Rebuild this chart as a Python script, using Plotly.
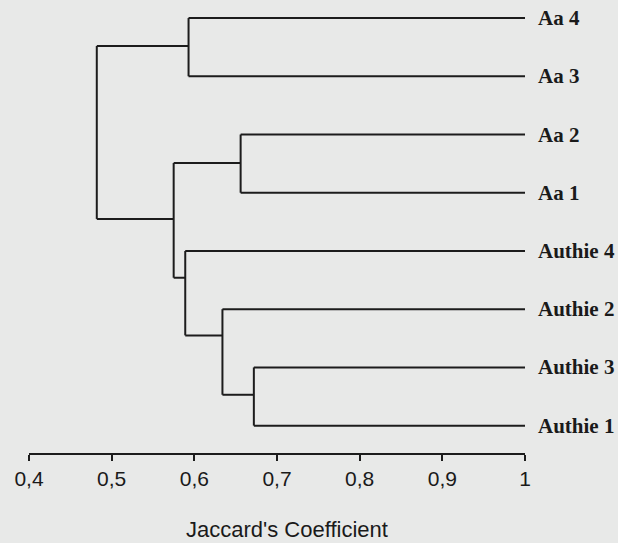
import plotly.graph_objects as go

# ---- data ----
leaf_labels = ["Aa 4", "Aa 3", "Aa 2", "Aa 1", "Authie 4", "Authie 2", "Authie 3", "Authie 1"]
leaf_similarity = 1.0  # leaves start at coefficient 1

# merges: children ids (leaves 0..7, internal nodes 8..), Jaccard similarity, node row position
merge_left = [0, 2, 6, 5, 4, 9, 8]
merge_right = [1, 3, 7, 10, 11, 12, 13]
merge_similarity = [0.593, 0.656, 0.672, 0.634, 0.589, 0.575, 0.482]
merge_row = [0.48, 2.49, 6.47, 5.45, 4.46, 3.45, 1.96]

tick_values = [0.4, 0.5, 0.6, 0.7, 0.8, 0.9, 1.0]
tick_labels = ["0,4", "0,5", "0,6", "0,7", "0,8", "0,9", "1"]
x_title = "Jaccard's Coefficient"

# ---- build dendrogram segments ----
n_leaves = len(leaf_labels)
node_x = [leaf_similarity] * n_leaves + list(merge_similarity)
node_y = list(range(n_leaves)) + list(merge_row)

xs, ys = [], []
parent = {}
for k, (a, b) in enumerate(zip(merge_left, merge_right)):
    parent[a] = n_leaves + k
    parent[b] = n_leaves + k
# horizontal branches from each node to its parent's merge level
for node, par in parent.items():
    xs += [node_x[node], node_x[par], None]
    ys += [node_y[node], node_y[node], None]
# vertical connectors at each merge
for k, (a, b) in enumerate(zip(merge_left, merge_right)):
    m = merge_similarity[k]
    xs += [m, m, None]
    ys += [node_y[a], node_y[b], None]

bg = "#e8e9e8"
fig = go.Figure()
fig.add_trace(go.Scatter(x=xs, y=ys, mode="lines",
                         line=dict(color="#1c1c1c", width=2),
                         hoverinfo="skip", showlegend=False))

annotations = []
for i, lab in enumerate(leaf_labels):
    annotations.append(dict(x=leaf_similarity, y=i, xref="x", yref="y",
                            text="<b>" + lab + "</b>", showarrow=False,
                            xanchor="left", yanchor="middle", xshift=11,
                            font=dict(family="Liberation Serif", size=21, color="#1a1a1a")))
annotations.append(dict(x=0.712, y=-0.168, xref="x", yref="paper",
                        text=x_title, showarrow=False,
                        xanchor="center", yanchor="middle",
                        font=dict(family="Liberation Sans", size=22, color="#1a1a1a")))

fig.update_layout(
    width=618, height=543,
    margin=dict(l=29, r=93, t=0, b=90),
    paper_bgcolor=bg, plot_bgcolor=bg,
    annotations=annotations,
    xaxis=dict(range=[0.4, 1.0], tickvals=tick_values, ticktext=tick_labels,
               showline=True, linecolor="#1c1c1c", linewidth=2,
               ticks="outside", ticklen=6, tickwidth=2, tickcolor="#1c1c1c",
               showgrid=False, zeroline=False,
               tickfont=dict(family="Liberation Sans", size=21, color="#1a1a1a")),
    yaxis=dict(range=[7.47, -0.31], visible=False, showgrid=False, zeroline=False),
)

fig.write_html("out.html",
               config={"displayModeBar": False},
               post_script="document.body.style.margin='0';document.body.style.overflow='hidden';document.body.style.background='" + bg + "';")
